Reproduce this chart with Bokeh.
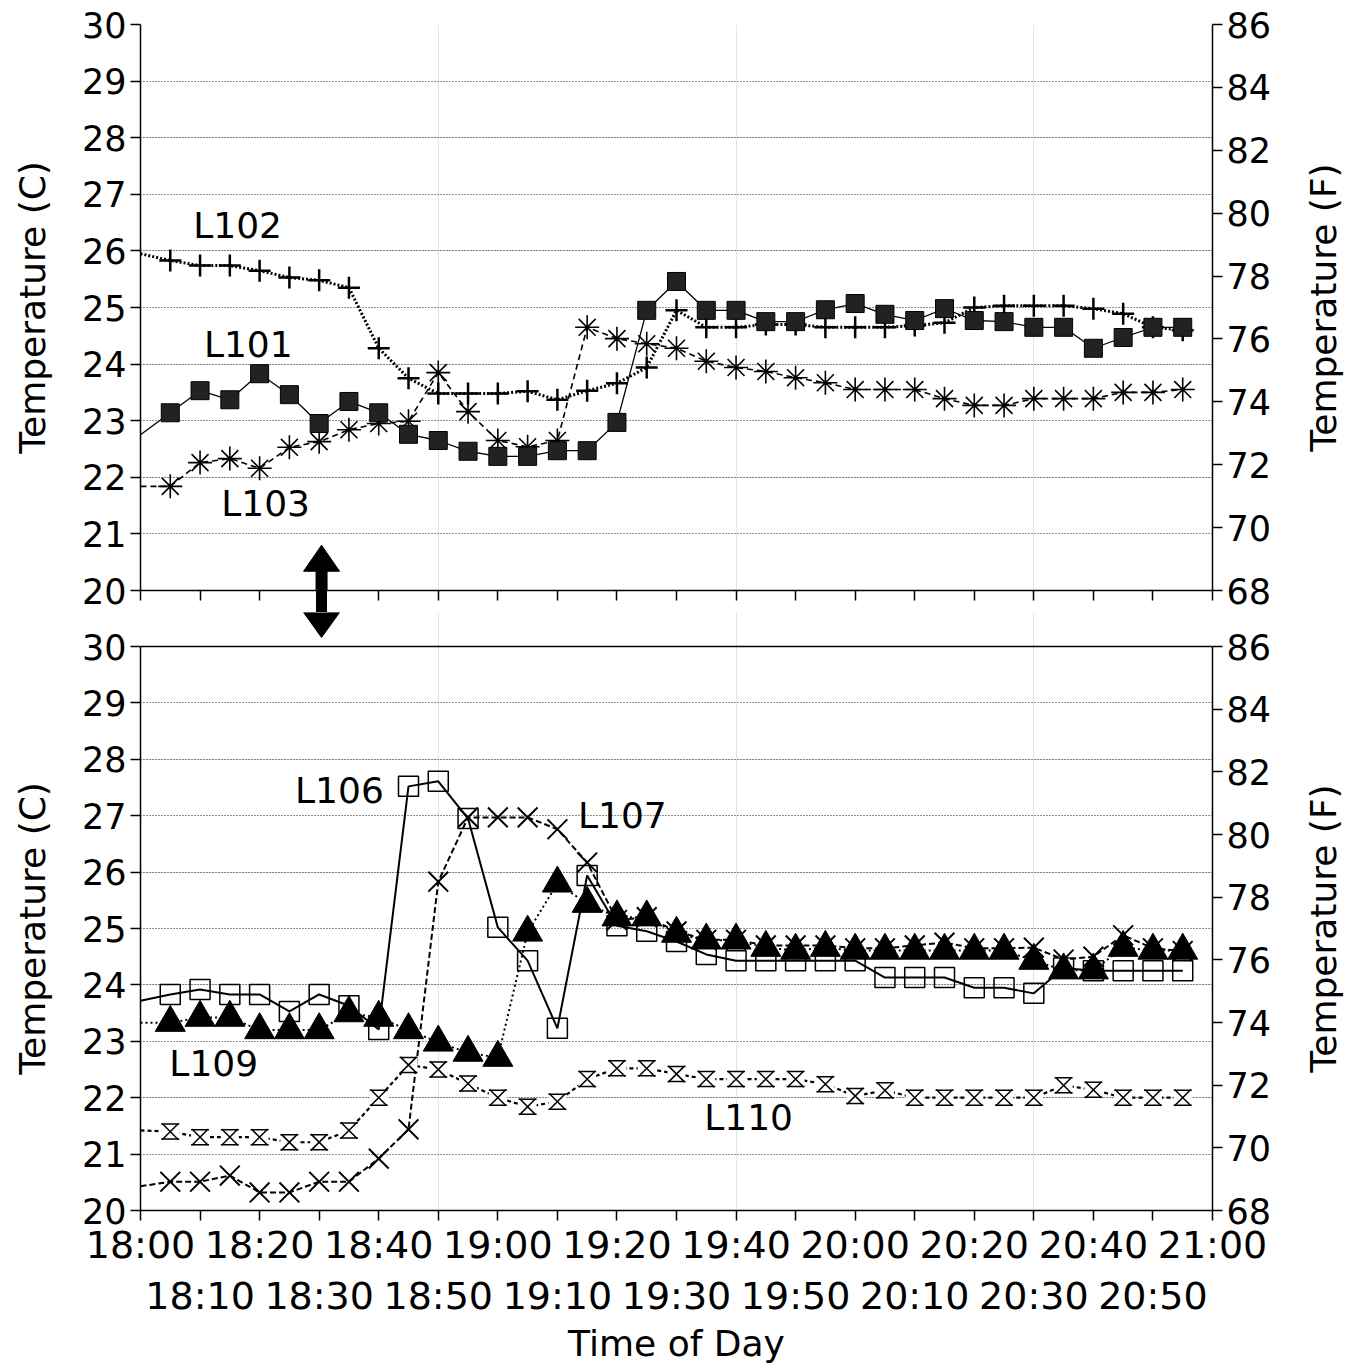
from bokeh.plotting import figure
from bokeh.models import (Range1d, LinearAxis, FixedTicker, Label, Grid, PolyAnnotation)
from bokeh.layouts import column, row
from bokeh.embed import file_html
from bokeh.resources import INLINE

# ---------------- data ----------------
TIMES = ["18:00", "18:05", "18:10", "18:15", "18:20", "18:25", "18:30", "18:35", "18:40",
         "18:45", "18:50", "18:55", "19:00", "19:05", "19:10", "19:15", "19:20", "19:25",
         "19:30", "19:35", "19:40", "19:45", "19:50", "19:55", "20:00", "20:05", "20:10",
         "20:15", "20:20", "20:25", "20:30", "20:35", "20:40", "20:45", "20:50", "20:55"]

L101 = [22.75, 23.14, 23.53, 23.37, 23.83, 23.46, 22.95, 23.34, 23.14, 22.76, 22.65, 22.46,
        22.37, 22.37, 22.47, 22.47, 22.97, 24.95, 25.46, 24.95, 24.95, 24.75, 24.75, 24.96,
        25.07, 24.88, 24.77, 24.98, 24.77, 24.75, 24.65, 24.65, 24.28, 24.47, 24.65, 24.65]
L102 = [25.95, 25.83, 25.74, 25.74, 25.65, 25.53, 25.48, 25.35, 24.28, 23.75, 23.48, 23.48,
        23.48, 23.52, 23.37, 23.53, 23.66, 23.94, 24.95, 24.65, 24.65, 24.70, 24.70, 24.65,
        24.65, 24.65, 24.68, 24.73, 25.00, 25.03, 25.03, 25.03, 24.98, 24.89, 24.65, 24.60]
L103 = [21.84, 21.84, 22.26, 22.33, 22.16, 22.53, 22.63, 22.84, 22.95, 22.99, 23.85, 23.16,
        22.65, 22.54, 22.65, 24.65, 24.45, 24.36, 24.28, 24.05, 23.94, 23.87, 23.76, 23.67,
        23.55, 23.55, 23.55, 23.39, 23.27, 23.27, 23.39, 23.39, 23.39, 23.50, 23.50, 23.55]

L106 = [23.72, 23.83, 23.92, 23.83, 23.83, 23.53, 23.83, 23.63, 23.21, 27.52, 27.61, 26.95,
        25.02, 24.43, 23.23, 25.94, 25.05, 24.95, 24.77, 24.54, 24.43, 24.43, 24.43, 24.43,
        24.43, 24.13, 24.13, 24.13, 23.95, 23.95, 23.85, 24.30, 24.25, 24.25, 24.25, 24.25]
L107 = [20.43, 20.51, 20.51, 20.62, 20.32, 20.32, 20.51, 20.51, 20.92, 21.44, 25.83, 26.97,
        26.97, 26.97, 26.76, 26.17, 25.15, 25.20, 24.95, 24.80, 24.80, 24.70, 24.70, 24.70,
        24.65, 24.65, 24.70, 24.75, 24.65, 24.65, 24.66, 24.45, 24.50, 24.88, 24.65, 24.60]
L109 = [23.33, 23.33, 23.42, 23.42, 23.20, 23.20, 23.20, 23.50, 23.42, 23.20, 22.98, 22.80,
        22.71, 24.93, 25.80, 25.44, 25.20, 25.20, 24.91, 24.79, 24.79, 24.66, 24.61, 24.66,
        24.61, 24.61, 24.61, 24.61, 24.61, 24.61, 24.43, 24.26, 24.26, 24.66, 24.61, 24.61]
L110 = [21.42, 21.40, 21.30, 21.30, 21.30, 21.21, 21.21, 21.42, 22.00, 22.58, 22.50, 22.25,
        22.00, 21.84, 21.93, 22.33, 22.52, 22.52, 22.42, 22.33, 22.33, 22.33, 22.33, 22.24,
        22.03, 22.13, 22.00, 22.00, 22.00, 22.00, 22.00, 22.22, 22.14, 22.00, 22.00, 22.00]

X_ROW1 = ["18:00", "18:20", "18:40", "19:00", "19:20", "19:40", "20:00", "20:20", "20:40", "21:00"]
X_ROW2 = ["18:10", "18:30", "18:50", "19:10", "19:30", "19:50", "20:10", "20:30", "20:50"]
C_TICKS = [20, 21, 22, 23, 24, 25, 26, 27, 28, 29, 30]
F_TICKS = [68, 70, 72, 74, 76, 78, 80, 82, 84, 86]
C_MIN, C_MAX = 20, 30
F_MIN, F_MAX = 68, 86
LEFT_TITLE = "Temperature (C)"
RIGHT_TITLE = "Temperature (F)"
X_TITLE = "Time of Day"

# ---------------- layout constants ----------------
FONT = "DejaVu Sans"
FRAME_W = 1072
TOP_FRAME_H = 566          # 20..30 C in the top panel
BOT_PANEL_H = 564          # 20..30 C in the bottom panel
TOP_B_TOP, TOP_B_BOT = 24, 22
EXT_PX = 56 - TOP_B_BOT    # bottom frame reaches up this far above its 30 C line
TITLE_L_W, TITLE_R_W = 64, 61
B_LEFT, B_RIGHT = 140 - TITLE_L_W, 80
BOT_B_BOT = 140
PPU_TOP = TOP_FRAME_H / 10.0
PPU_BOT = BOT_PANEL_H / 10.0
PX_PER_MIN = FRAME_W / 180.0
BOT_C_TOP = C_MAX + EXT_PX / PPU_BOT
BOT_F_TOP = F_MAX + 1.8 * EXT_PX / PPU_BOT


def mins(t):
    h, m = t.split(":")
    return (int(h) - 18) * 60 + int(m)


X = [mins(t) for t in TIMES]
R1 = [mins(t) for t in X_ROW1]
R2 = [mins(t) for t in X_ROW2]
ALL_TICKS = sorted(R1 + R2)

ARROW_X = 30.4          # minutes after 18:00
ARROW_TOP_TIP = 20.8    # top panel, deg C
ARROW_BOT_TIP = 30.16   # bottom panel, deg C


def style_axis(ax, label_size="35px"):
    ax.axis_line_color = "black"
    ax.axis_line_width = 1.5
    ax.major_tick_line_color = "black"
    ax.major_tick_line_width = 1.5
    ax.major_tick_in = 0
    ax.major_tick_out = 10
    ax.minor_tick_line_color = "black"
    ax.minor_tick_line_width = 1.5
    ax.minor_tick_in = 0
    ax.minor_tick_out = 10
    ax.major_label_text_font = FONT
    ax.major_label_text_font_size = label_size
    ax.major_label_text_color = "black"
    ax.axis_label_text_font = FONT
    ax.axis_label_text_font_size = "36px"
    ax.axis_label_text_font_style = "normal"
    ax.axis_label_text_color = "black"


# vertical geometry of the stacked panels (px from the top of the page)
TOP_FIG_H = TOP_B_TOP + TOP_FRAME_H + TOP_B_BOT
TOP_CENTER = TOP_B_TOP + TOP_FRAME_H / 2.0
BOT_CENTER = TOP_FIG_H + EXT_PX + BOT_PANEL_H / 2.0
STRIP_H = TOP_FIG_H + EXT_PX + BOT_PANEL_H


def title_strip(text, width):
    """Narrow strip holding the rotated axis titles of both panels (reads bottom-to-top)."""
    t = figure(width=width, height=STRIP_H, x_range=Range1d(0, 1), y_range=Range1d(0, 1),
               x_axis_location=None, y_axis_location=None, min_border=0,
               output_backend="svg", toolbar_location=None)
    t.outline_line_color = None
    t.grid.visible = False
    for c in (TOP_CENTER, BOT_CENTER):
        t.add_layout(Label(x=0.5, y=1 - c / STRIP_H, text=text, text_font=FONT,
                           text_font_size="36px", text_color="black", angle=90,
                           angle_units="deg", text_align="center", text_baseline="middle"))
    return t


def make_fig(frame_h, c_top, f_top, b_top, b_bottom):
    p = figure(frame_width=FRAME_W, frame_height=frame_h,
               x_range=Range1d(0, 180), y_range=Range1d(C_MIN, c_top),
               x_axis_location=None, y_axis_location=None,
               min_border_left=B_LEFT, min_border_right=B_RIGHT,
               min_border_top=b_top, min_border_bottom=b_bottom,
               output_backend="svg", toolbar_location=None)
    p.outline_line_color = None
    p.background_fill_color = "white"
    p.border_fill_color = "white"
    p.extra_y_ranges = {"F": Range1d(F_MIN, f_top)}

    left = LinearAxis(ticker=FixedTicker(ticks=C_TICKS), bounds=(C_MIN, C_MAX))
    style_axis(left)
    left.major_label_standoff = 4
    p.add_layout(left, "left")

    right = LinearAxis(y_range_name="F", ticker=FixedTicker(ticks=F_TICKS), bounds=(F_MIN, F_MAX))
    style_axis(right)
    right.major_label_standoff = 4
    p.add_layout(right, "right")

    grid = Grid(dimension=1, ticker=FixedTicker(ticks=C_TICKS[1:-1]))
    grid.grid_line_color = "#222222"
    grid.grid_line_dash = "1 2"
    grid.grid_line_width = 1.2
    p.add_layout(grid)
    top_line = Grid(dimension=1, ticker=FixedTicker(ticks=[C_MAX]))
    top_line.grid_line_color = "black"
    top_line.grid_line_width = 1.5
    p.add_layout(top_line)
    return p


def add_label(p, text, x, y):
    p.add_layout(Label(x=x, y=y, text=text, text_font=FONT, text_font_size="36px",
                       text_color="black", text_align="center", text_baseline="middle"))


# double arrow geometry (px measured from the top panel's 30 C line)
BOUNDARY = TOP_FRAME_H + TOP_B_BOT          # where the two figures meet
BOT30 = BOUNDARY + EXT_PX                   # bottom panel's 30 C line
sy_tip_t = (C_MAX - ARROW_TOP_TIP) * PPU_TOP
sy_base_t = sy_tip_t + 26
sy_tip_b = BOT30 + (C_MAX - ARROW_BOT_TIP) * PPU_BOT
sy_base_b = BOUNDARY
hw, sw = 36 / 2.0 / PX_PER_MIN, 11 / 2.0 / PX_PER_MIN
ARROW_DX = [-hw, 0, hw, sw, sw, hw, 0, -hw, -sw, -sw]
ARROW_SY = [sy_base_t, sy_tip_t, sy_base_t, sy_base_t, sy_base_b, sy_base_b, sy_tip_b,
            sy_base_b, sy_base_b, sy_base_t]
ARROW_XS = [ARROW_X + d for d in ARROW_DX]


def arrow(p, to_units):
    p.add_layout(PolyAnnotation(xs=ARROW_XS, ys=[to_units(s) for s in ARROW_SY],
                                fill_color="black", fill_alpha=1.0,
                                line_color="black", line_alpha=1.0, line_width=1))


# ---------------- top panel ----------------
p1 = make_fig(TOP_FRAME_H, C_MAX, F_MAX, TOP_B_TOP, TOP_B_BOT)
xb = LinearAxis(ticker=FixedTicker(ticks=ALL_TICKS, minor_ticks=[ARROW_X]),
                major_label_overrides={t: "" for t in ALL_TICKS})
style_axis(xb, "1px")
xb.major_label_standoff = 0
xb.minor_tick_out = TOP_B_BOT       # arrow shaft between the two panels
xb.minor_tick_line_width = 11
p1.add_layout(xb, "below")

p1.line(X, L103, line_color="black", line_width=1.6, line_dash="6 4")
p1.line(X, L102, line_color="black", line_width=3, line_dash="2 2")
p1.line(X, L101, line_color="black", line_width=1.3)
p1.scatter(X[1:], L103[1:], marker="asterisk", size=24, line_color="black", line_width=1.6)
p1.scatter(X[1:], L102[1:], marker="cross", size=22, line_color="black", line_width=2.5)
p1.scatter(X[1:], L101[1:], marker="square", size=18, fill_color="#222222", line_color="black")

add_label(p1, "L102", 16.3, 26.45)
add_label(p1, "L101", 18.1, 24.35)
add_label(p1, "L103", 21.0, 21.54)
arrow(p1, lambda s: C_MAX - s / PPU_TOP)

# ---------------- bottom panel ----------------
p2 = make_fig(BOT_PANEL_H + EXT_PX, BOT_C_TOP, BOT_F_TOP, 0, BOT_B_BOT)
xa1 = LinearAxis(ticker=FixedTicker(ticks=R1, minor_ticks=R2),
                 major_label_overrides={m: t for m, t in zip(R1, X_ROW1)})
style_axis(xa1, "38px")
xa1.major_label_standoff = 2
p2.add_layout(xa1, "below")

xa2 = LinearAxis(ticker=FixedTicker(ticks=R2),
                 major_label_overrides={m: t for m, t in zip(R2, X_ROW2)},
                 axis_label=X_TITLE)
style_axis(xa2, "38px")
xa2.axis_line_color = None
xa2.major_tick_line_color = None
xa2.major_tick_out = 0
xa2.major_label_standoff = 4
xa2.axis_label_standoff = 2
p2.add_layout(xa2, "below")

p2.line(X, L110, line_color="black", line_width=2.2, line_dash="4 3")
p2.line(X, L107, line_color="black", line_width=2, line_dash="6 3")
p2.line(X, L109, line_color="black", line_width=2, line_dash="2 3")
p2.line(X, L106, line_color="black", line_width=2)

p2.scatter(X[1:], L106[1:], marker="square", size=20, fill_color=None, line_color="black",
           line_width=1.5)
p2.scatter(X[1:], L109[1:], marker="triangle", size=30, fill_color="black", line_color="black")
p2.scatter(X[1:], L107[1:], marker="x", size=28, line_color="black", line_width=2)
# hourglass marker for L110: white box with only top/bottom edges + an x
p2.rect(X[1:], L110[1:], width=18, height=15, width_units="screen", height_units="screen",
        fill_color="white", line_color="black", line_width=1.5, line_dash="18 15")
p2.scatter(X[1:], L110[1:], marker="x", size=23, line_color="black", line_width=1.5)

add_label(p2, "L106", 33.4, 27.45)
add_label(p2, "L107", 80.9, 27.0)
add_label(p2, "L109", 12.3, 22.6)
add_label(p2, "L110", 102.1, 21.65)
arrow(p2, lambda s: C_MAX - (s - BOT30) / PPU_BOT)

# ---------------- assemble ----------------
layout = row(title_strip(LEFT_TITLE, TITLE_L_W), column(p1, p2, spacing=0),
             title_strip(RIGHT_TITLE, TITLE_R_W), spacing=0)
open("out.html", "w").write(file_html(layout, INLINE))
